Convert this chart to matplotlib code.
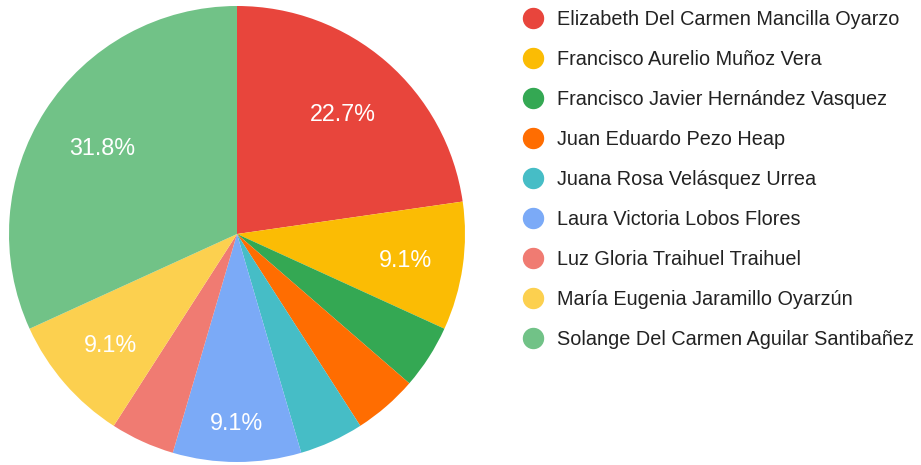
import numpy as np
import matplotlib
matplotlib.use("Agg")
import matplotlib.pyplot as plt
from matplotlib.lines import Line2D

plt.rcParams['font.family'] = ['Liberation Sans', 'DejaVu Sans']

categories = [
    "Elizabeth Del Carmen Mancilla Oyarzo",
    "Francisco Aurelio Muñoz Vera",
    "Francisco Javier Hernández Vasquez",
    "Juan Eduardo Pezo Heap",
    "Juana Rosa Velásquez Urrea",
    "Laura Victoria Lobos Flores",
    "Luz Gloria Traihuel Traihuel",
    "María Eugenia Jaramillo Oyarzún",
    "Solange Del Carmen Aguilar Santibañez",
]
values = [5, 2, 1, 1, 1, 2, 1, 2, 7]
colors = ["#E8453C", "#FBBC04", "#34A853", "#FF6D01", "#46BDC6",
          "#7BAAF7", "#F07B72", "#FCD04F", "#71C287"]
# radial placement of the percentage labels (fraction of radius), style only
label_r = [0.706, 0.746, 0.7, 0.7, 0.7, 0.823, 0.7, 0.736, 0.705]

W, H = 921, 465
fig = plt.figure(figsize=(W / 100, H / 100), dpi=100)
cx, cy, r = 237, 234, 228
ax = fig.add_axes([(cx - r) / W, (H - cy - r) / H, 2 * r / W, 2 * r / H])

def fmt(p):
    return f"{p:.1f}%" if p > 6 else ""

fs = 16.8
wedges, texts, autotexts = ax.pie(
    values, colors=colors, startangle=90, counterclock=False,
    autopct=fmt, pctdistance=0.71,
    textprops=dict(color="white", fontsize=fs),
    wedgeprops=dict(linewidth=0),
)
half_digit = 0.716 * (fs / 72 * 100) / 2 / r
for w, t, d in zip(wedges, autotexts, label_r):
    ang = np.deg2rad((w.theta1 + w.theta2) / 2)
    t.set_position((d * np.cos(ang), d * np.sin(ang) - half_digit))
    t.set_va('baseline')
    t.set_ha('center')

ax.set_xlim(-1, 1)
ax.set_ylim(-1, 1)
ax.set_aspect('equal')

handles = [Line2D([], [], marker='o', linestyle='none', markersize=14.4,
                  markerfacecolor=c, markeredgecolor=c) for c in colors]
fig.legend(handles, categories, loc='upper left',
           bbox_to_anchor=(523 / W, 1 - 10 / H), frameon=False,
           fontsize=14.3, labelspacing=1.06, handletextpad=0.7,
           handlelength=1.0, borderaxespad=0, borderpad=0,
           labelcolor="#222222")

fig.savefig("out.png", dpi=100)
